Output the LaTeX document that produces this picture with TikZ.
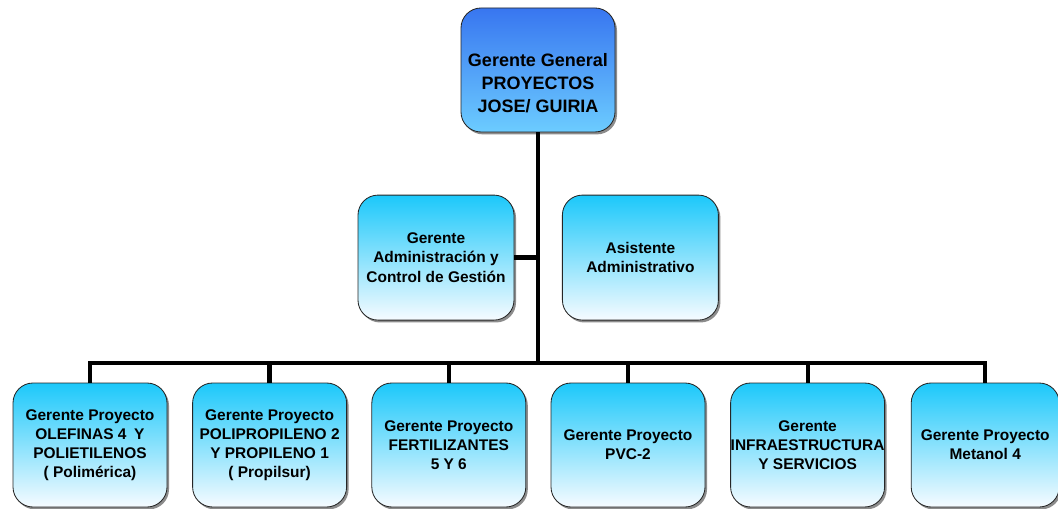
\documentclass[tikz,border=0pt]{standalone}
\usepackage{fontspec}
\setmainfont{Liberation Sans}
\usetikzlibrary{shadows,calc}
\definecolor{gtop}{RGB}{56,118,240}
\definecolor{gbot}{RGB}{108,204,255}
\definecolor{ctop}{RGB}{28,200,250}
\definecolor{cbot}{RGB}{246,251,255}

\begin{document}
\begin{tikzpicture}[
    unit/.style={draw=black!85,line width=0.6pt,rounded corners=0.5cm,inner xsep=0pt,
      minimum width=3.85cm,minimum height=3.1cm,top color=ctop,bottom color=cbot,
      drop shadow={shadow xshift=0.05cm,shadow yshift=-0.06cm,fill=black!45,opacity=1},
      align=center,font=\fontsize{11}{13.6}\selectfont\bfseries},
    link/.style={line width=3pt,black}]
    \useasboundingbox (0,0) rectangle (26.45,12.7);
    \node[unit,top color=gtop,bottom color=gbot,
      label={[font=\fontsize{12.8}{16.4}\selectfont\bfseries,align=center,yshift=-0.33cm]center:{Gerente General\\PROYECTOS\\JOSE/ GUIRIA}}]
      (gg) at (13.45,10.95) {};
    \node[unit,minimum width=3.9cm,minimum height=3.125cm] (adm) at (10.9,6.26)
      {Gerente\\Administración y\\Control de Gestión};
    \node[unit,minimum width=3.9cm,minimum height=3.125cm] (asis) at (16.01,6.26)
      {Asistente\\Administrativo};
    \foreach \i/\x/\w/\txt in {
      1/2.25/3.85/{Gerente Proyecto\\OLEFINAS 4\enspace Y\\POLIETILENOS\\( Polimérica)},
      2/6.74/3.85/{Gerente Proyecto\\POLIPROPILENO 2\\Y PROPILENO 1\\( Propilsur)},
      3/11.22/3.85/{Gerente Proyecto\\FERTILIZANTES\\5 Y 6},
      4/15.7/3.85/{Gerente Proyecto\\PVC-2},
      5/20.19/3.85/{Gerente\\INFRAESTRUCTURA\\Y SERVICIOS},
      6/24.63/3.7/{Gerente Proyecto\\Metanol 4}}{
      \node[unit,minimum width=\w cm] (p\i) at (\x,1.575) {\txt};
    }
    \coordinate (bus) at (0,3.625);
    \draw[link] (gg.south) -- (gg.south |- bus);
    \draw[link] (adm.east) -- (adm.east -| gg.south);
    \draw[link] (p1.north) -- (p1.north |- bus) -- (p6.north |- bus) -- (p6.north);
    \foreach \i in {2,...,5}
      \draw[link] (p\i.north) -- (p\i.north |- bus);
  \end{tikzpicture}
\end{document}
